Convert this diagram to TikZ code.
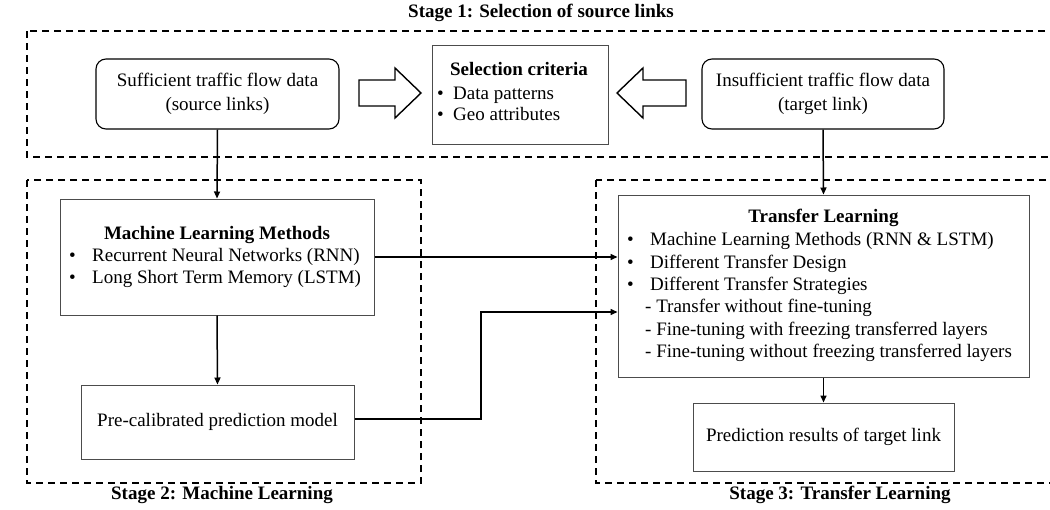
\documentclass[tikz,border=0pt]{standalone}
\usepackage{fontspec}
\setmainfont{Liberation Serif}
\usetikzlibrary{arrows.meta}
\begin{document}
\begin{tikzpicture}[x=1pt,y=-1pt,
  font=\fontsize{19}{22.4}\selectfont,
  stage/.style={draw=black,line width=1.8pt,dash pattern=on 7pt off 5pt},
  roundbox/.style={draw=black,line width=1.1pt,rounded corners=10pt},
  plainbox/.style={draw=black!70,line width=1pt},
  heading/.style={font=\fontsize{19}{22.4}\selectfont\bfseries,inner sep=0pt,anchor=mid},
  item/.style={inner sep=0pt,anchor=mid west},
  link/.style={line width=1.5pt,-{Triangle[length=7pt,width=6pt]}},
  hollow/.style={draw=black,line width=1.4pt,fill=white,line join=miter}]
\useasboundingbox (0,0) rectangle (1050,509);
\clip (0,0) rectangle (1050,509);

% stage frames
\draw[stage] (27,31) rectangle (1070,157);
\draw[stage] (27,180) rectangle (421,483);
\draw[stage] (596,180) rectangle (1070,483);
\node[heading] (s1) at (541,15) {Stage 1: Selection of source links};
\node[heading] (s2) at (222,497) {Stage 2: Machine Learning};
\node[heading] (s3) at (840,497) {Stage 3: Transfer Learning};

% stage 1 boxes
\node[roundbox,minimum width=243pt,minimum height=70pt,align=center] (src) at (217.5,94)
  {Sufficient traffic flow data\\[2pt](source links)};
\node[roundbox,minimum width=242pt,minimum height=70pt,align=center] (tgt) at (823,94)
  {Insufficient traffic flow data\\[2pt](target link)};
\node[plainbox,minimum width=176pt,minimum height=99pt] (sel) at (520,94.5) {};
\node[heading] (selh) at (519,73) {Selection criteria};
\node[item] (sel1) at (437,97) {\makebox[16pt][l]{\textbullet}Data patterns};
\node[item] (sel2) at (437,118) {\makebox[16pt][l]{\textbullet}Geo attributes};

% hollow block arrows towards the criteria box
\draw[hollow] (359,80) -- (395,80) -- (395,68) -- (421,93) -- (395,118) -- (395,106) -- (359,106) -- cycle;
\draw[hollow] (686,80) -- (643,80) -- (643,68) -- (617,93) -- (643,118) -- (643,106) -- (686,106) -- cycle;

% stage 2 boxes
\node[plainbox,minimum width=314pt,minimum height=116pt] (ml) at (217,257) {};
\node[heading] (mlh) at (217,237) {Machine Learning Methods};
\node[item] (ml1) at (69,259) {\makebox[23pt][l]{\textbullet}Recurrent Neural Networks (RNN)};
\node[item] (ml2) at (69,281.5) {\makebox[23pt][l]{\textbullet}Long Short Term Memory (LSTM)};
\node[plainbox,minimum width=273pt,minimum height=74pt] (pre) at (217.5,422)
  {Pre-calibrated prediction model};

% stage 3 boxes
\node[plainbox,minimum width=411pt,minimum height=182pt] (tl) at (823.5,286) {};
\node[heading] (tlh) at (823.5,220) {Transfer Learning};
\node[item] (tl1) at (627,243) {\makebox[23pt][l]{\textbullet}Machine Learning Methods (RNN \& LSTM)};
\node[item] (tl2) at (627,266) {\makebox[23pt][l]{\textbullet}Different Transfer Design};
\node[item] (tl3) at (627,288) {\makebox[23pt][l]{\textbullet}Different Transfer Strategies};
\node[item] (tl4) at (645,310.5) {- Transfer without fine-tuning};
\node[item] (tl5) at (645,333) {- Fine-tuning with freezing transferred layers};
\node[item] (tl6) at (645,355) {- Fine-tuning without freezing transferred layers};
\node[plainbox,minimum width=261pt,minimum height=68pt] (res) at (823.5,437)
  {Prediction results of target link};

% connectors
\draw[link] (src.south) -- (ml.north);
\draw[link] (tgt.south) -- (tl.north);
\draw[link] (ml.south) -- (pre.north);
\draw[link] (tl.south) -- (res.north);
\draw[link] (ml.east |- 0,257) -- (tl.west |- 0,257);
\coordinate (bend1) at (481,419);
\coordinate (bend2) at (481,312);
\draw[link] (pre.east |- bend1) -- (bend1) -- (bend2) -- (tl.west |- bend2);
\end{tikzpicture}
\end{document}
